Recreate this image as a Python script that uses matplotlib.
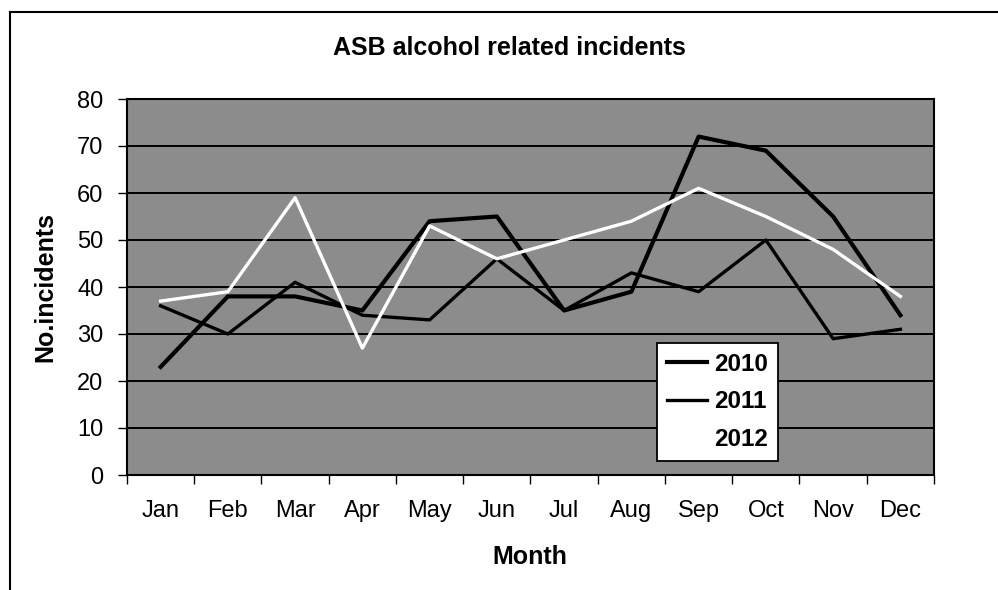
import matplotlib
matplotlib.use("Agg")
import matplotlib.pyplot as plt
from matplotlib.lines import Line2D

months = ["Jan", "Feb", "Mar", "Apr", "May", "Jun", "Jul", "Aug", "Sep", "Oct", "Nov", "Dec"]
y2010 = [23, 38, 38, 35, 54, 55, 35, 39, 72, 69, 55, 34]
y2011 = [36, 30, 41, 34, 33, 46, 35, 43, 39, 50, 29, 31]
y2012 = [37, 39, 59, 27, 53, 46, 50, 54, 61, 55, 48, 38]
yticks = [0, 10, 20, 30, 40, 50, 60, 70, 80]

plt.rcParams['font.family'] = ['Liberation Sans', 'DejaVu Sans']

W, H = 998, 590
fig = plt.figure(figsize=(W/100, H/100), dpi=100)
ax = fig.add_axes([127/W, 1-475/H, (934-127)/W, (475-99)/H])

x = list(range(len(months)))
ax.set_facecolor('#8c8c8c')
for yv in yticks[1:-1]:
    ax.axhline(yv, color='black', lw=1.4, zorder=1)

ax.plot(x, y2010, color='black', lw=3.0, label='2010', zorder=3)
ax.plot(x, y2011, color='black', lw=2.4, label='2011', zorder=3)
ax.plot(x, y2012, color='white', lw=2.4, label='2012', zorder=3)

ax.set_xlim(-0.5, len(months)-0.5)
ax.set_ylim(0, 80)
ax.set_yticks(yticks)
ax.set_yticklabels([str(v) for v in yticks], fontsize=17)
ax.set_xticks([i-0.5 for i in range(len(months)+1)])
ax.set_xticklabels([])
ax.set_xticks(x, minor=True)
ax.set_xticklabels(months, minor=True, fontsize=17)
ax.tick_params(axis='x', which='minor', length=0, pad=18)
ax.tick_params(axis='x', which='major', length=6.5, width=1, direction='out')
ax.tick_params(axis='y', length=6.5, width=1, direction='out', pad=10.5)
for s in ax.spines.values():
    s.set_color('black')
    s.set_linewidth(1.5)

fig.text(509/W, 1-55/H, 'ASB alcohol related incidents', fontsize=18, fontweight='bold',
         ha='center', va='baseline')
fig.text(530/W, 1-557/H, 'Month', fontsize=18, fontweight='bold', ha='center', va='center')
fig.text(45/W, 1-287/H, 'No.incidents', fontsize=18, fontweight='bold', ha='center',
         va='center', rotation=90)

leg = ax.legend(loc='upper left', bbox_to_anchor=(657/W, 1-343/H), bbox_transform=fig.transFigure,
                prop={'weight': 'bold', 'size': 17.5}, frameon=True, fancybox=False,
                edgecolor='black', framealpha=1, handlelength=1.65, borderpad=0.4,
                labelspacing=0.6, handletextpad=0.3, borderaxespad=0)
leg.get_frame().set_linewidth(1.3)

# outer chart border (left and top)
fig.add_artist(Line2D([10/W, 10/W], [0, 1-12/H], transform=fig.transFigure, color='black', lw=1.5))
fig.add_artist(Line2D([10/W, 1], [1-12/H, 1-12/H], transform=fig.transFigure, color='black', lw=1.5))

fig.savefig('out.png', dpi=100)
